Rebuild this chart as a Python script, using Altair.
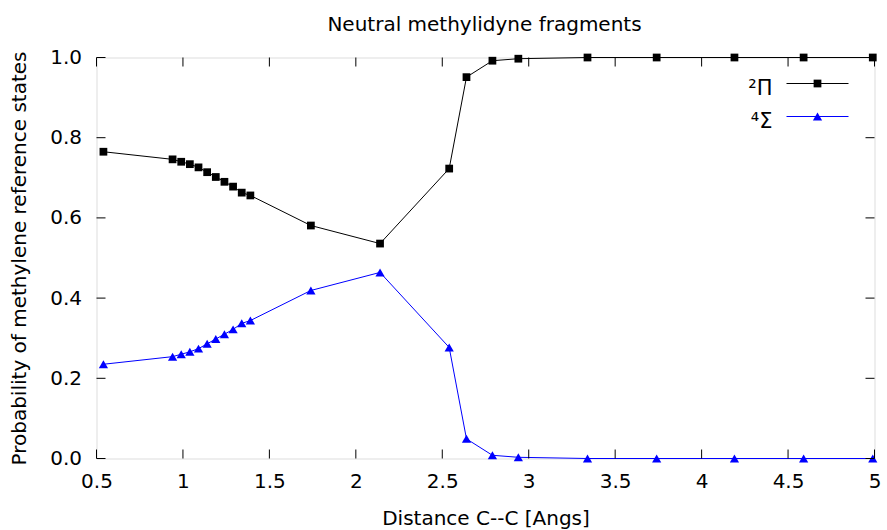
import altair as alt
import pandas as pd

# C--C distance (Angstrom) of each sampled geometry
distance = [0.54, 0.94, 0.99, 1.04, 1.09, 1.14, 1.19, 1.24, 1.29, 1.34, 1.39,
            1.74, 2.14, 2.54, 2.64, 2.79, 2.94, 3.34, 3.74, 4.19, 4.59, 4.99]
# probability of each methylene reference state
p_pi = [0.765, 0.746, 0.740, 0.734, 0.726, 0.714, 0.702, 0.690, 0.678, 0.663, 0.656,
        0.581, 0.536, 0.723, 0.951, 0.992, 0.997, 1.0, 1.0, 1.0, 1.0, 1.0]
p_sigma = [0.235, 0.254, 0.260, 0.266, 0.274, 0.286, 0.298, 0.310, 0.322, 0.337, 0.344,
           0.419, 0.464, 0.277, 0.049, 0.008, 0.003, 0.0, 0.0, 0.0, 0.0, 0.0]

series_names = ["²Π", "⁴Σ"]
series_colors = ["#000000", "#0000ff"]
series_shapes = ["square", "triangle-up"]
series_sizes = [60, 85]

x_ticks = [0.5, 1.0, 1.5, 2.0, 2.5, 3.0, 3.5, 4.0, 4.5, 5.0]
y_ticks = [0.0, 0.2, 0.4, 0.6, 0.8, 1.0]

title_text = ["Neutral methylidyne fragments"]

FONT = "DejaVu Sans"
W, H = 778, 401
TICK = 9

n = len(distance)
df = pd.DataFrame({
    "distance": distance * 2,
    "prob": p_pi + p_sigma,
    "state": [series_names[0]] * n + [series_names[1]] * n,
})

x_scale = alt.Scale(domain=[0.5, 5.0], nice=False, zero=False)
y_scale = alt.Scale(domain=[0.0, 1.0], nice=False, zero=False)
color_scale = alt.Scale(domain=series_names, range=series_colors)
shape_scale = alt.Scale(domain=series_names, range=series_shapes)
size_scale = alt.Scale(domain=series_names, range=series_sizes)

x_axis = alt.Axis(
    values=x_ticks, format="~g", title="Distance C--C [Angs]",
    grid=False, domain=False, ticks=False, labelPadding=13, labelFlush=False,
    labelFont=FONT, labelFontSize=20, labelColor="black",
    titleFont=FONT, titleFontSize=20, titleFontWeight="normal", titleColor="black",
    titleBaseline="alphabetic", titleY=66,
)
y_axis = alt.Axis(
    values=y_ticks, format=".1f", title="Probability of methylene reference states",
    grid=False, domain=False, ticks=False, labelPadding=15, labelFlush=False,
    labelFont=FONT, labelFontSize=20, labelColor="black",
    titleFont=FONT, titleFontSize=20, titleFontWeight="normal", titleColor="black",
    titleAngle=-90, titleBaseline="alphabetic", titleAlign="center",
    titleX=-71, titleY=H / 2,
)

base = alt.Chart(df)
lines = base.mark_line(strokeWidth=1).encode(
    x=alt.X("distance:Q", scale=x_scale, axis=x_axis),
    y=alt.Y("prob:Q", scale=y_scale, axis=y_axis),
    color=alt.Color("state:N", scale=color_scale, legend=None),
    detail="state:N",
)
points = base.mark_point(filled=True, opacity=1).encode(
    x=alt.X("distance:Q", scale=x_scale),
    y=alt.Y("prob:Q", scale=y_scale),
    color=alt.Color("state:N", scale=color_scale, legend=None),
    shape=alt.Shape("state:N", scale=shape_scale, legend=None),
    size=alt.Size("state:N", scale=size_scale, legend=None),
)

# inward tick marks on all four sides of the frame
xt = alt.Chart(pd.DataFrame({"distance": x_ticks}))
yt = alt.Chart(pd.DataFrame({"prob": y_ticks}))
tick_x = alt.X("distance:Q", scale=x_scale)
tick_y = alt.Y("prob:Q", scale=y_scale)
ticks = [
    xt.mark_rule(color="black", strokeWidth=1).encode(x=tick_x, y=alt.value(H), y2=alt.value(H - TICK)),
    xt.mark_rule(color="black", strokeWidth=1).encode(x=tick_x, y=alt.value(0), y2=alt.value(TICK)),
    yt.mark_rule(color="black", strokeWidth=1).encode(y=tick_y, x=alt.value(0), x2=alt.value(TICK)),
    yt.mark_rule(color="black", strokeWidth=1).encode(y=tick_y, x=alt.value(W - TICK), x2=alt.value(W)),
]

# chart heading, centred over the plot frame
heading = alt.Chart(pd.DataFrame({"t": title_text})).mark_text(
    align="center", baseline="alphabetic", font=FONT, fontSize=20, color="black"
).encode(text="t:N", x=alt.value(W / 2 - 1), y=alt.value(-27))

# key in the upper right corner: label, then sample line with marker
key_layers = []
key_rows = [26, 59]
for name, col, shp, sz, yrow in zip(series_names, series_colors, series_shapes, series_sizes, key_rows):
    kd = alt.Chart(pd.DataFrame({"name": [name]}))
    key_layers += [
        kd.mark_text(align="right", baseline="alphabetic", font=FONT, fontSize=21, color="black").encode(
            text="name:N", x=alt.value(676), y=alt.value(yrow + 11)),
        kd.mark_rule(color=col, strokeWidth=1).encode(
            x=alt.value(690), x2=alt.value(752), y=alt.value(yrow)),
        kd.mark_point(shape=shp, filled=True, size=sz, color=col, opacity=1).encode(
            x=alt.value(721), y=alt.value(yrow)),
    ]

chart = alt.layer(lines, points, *ticks, heading, *key_layers).properties(
    width=W, height=H,
    autosize=alt.AutoSizeParams(type="none"),
    padding={"left": 96.5, "top": 57.5, "right": 12.5, "bottom": 71.5},
).configure_view(
    stroke="black", strokeWidth=1,
).configure(background="white")

chart.save("out.html", embed_options={"renderer": "svg", "actions": False})
